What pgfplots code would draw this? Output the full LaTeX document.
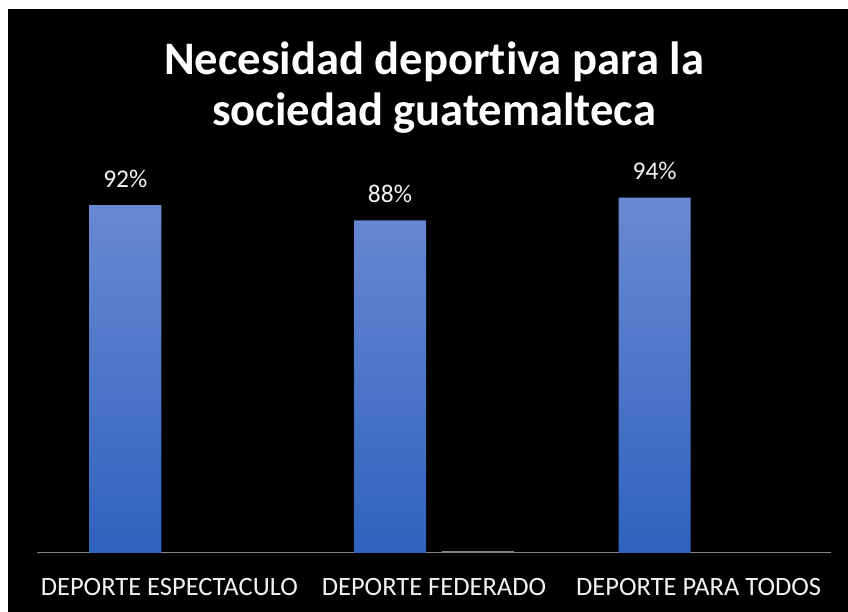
\documentclass[border=0pt]{standalone}
\usepackage{pgfplots}
\pgfplotsset{compat=1.18}
\usepackage{fontspec}
\setmainfont{Carlito}[Ligatures={NoCommon}]
\definecolor{bartop}{RGB}{106,138,210}
\definecolor{barbot}{RGB}{47,98,190}
\definecolor{axgray}{RGB}{134,134,134}
\definecolor{lbl}{RGB}{242,242,242}
\begin{document}
\begin{tikzpicture}[x=1pt,y=1pt]
\fill[white] (0,0) rectangle (848,612);
\fill[black] (8,0) rectangle (848,603);
\node[anchor=base, text=white, font=\fontsize{46.6}{52}\selectfont\bfseries] at (434,537) {Necesidad deportiva para la};
\node[anchor=base, text=white, font=\fontsize{46.6}{52}\selectfont\bfseries] at (434,486) {sociedad guatemalteca};
\begin{axis}[
  at={(37pt,59pt)}, anchor=south west,
  scale only axis, width=794pt, height=378pt,
  xmin=-0.5, xmax=2.5, ymin=0, ymax=100,
  /pgf/number format/assume math mode=true,
  axis y line=none,
  axis x line*=bottom,
  x axis line style={draw=axgray, line width=1pt, -},
  xtick={0,1,2},
  xticklabels={DEPORTE ESPECTACULO, DEPORTE FEDERADO, DEPORTE PARA TODOS},
  major tick length=0pt,
  xticklabel style={text=lbl, font=\fontsize{26.5}{30}\selectfont, anchor=base, yshift=-43pt},
  clip=false,
  ybar, bar width=72pt,
]
\addplot[bar shift=-44pt, draw=none, top color=bartop, bottom color=barbot,
  nodes near coords={\pgfmathprintnumber{\pgfplotspointmeta}\%},
  every node near coord/.append style={text=lbl, font=\fontsize{25.5}{30}\selectfont, anchor=base, yshift=18pt, inner sep=0pt}]
  coordinates {(0,92) (1,88) (2,94)};
\addplot[bar shift=44pt, draw=none, fill=axgray]
  coordinates {(0,0) (1,0.5) (2,0)};
\end{axis}
\end{tikzpicture}
\end{document}
